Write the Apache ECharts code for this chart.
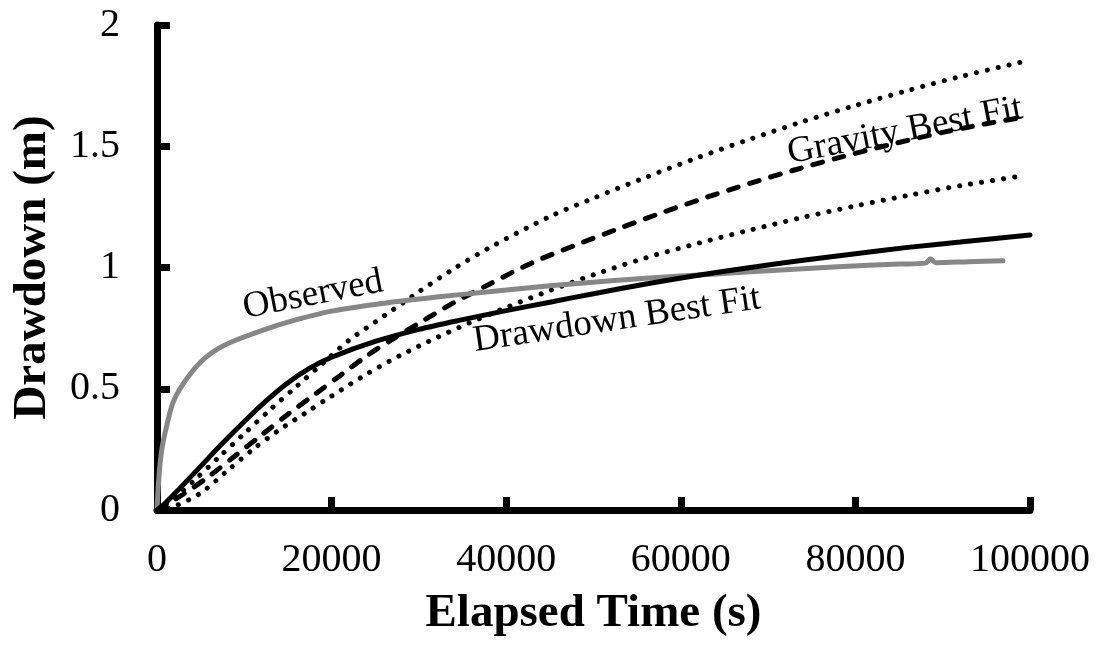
<!DOCTYPE html>
<html>
<head>
<meta charset="utf-8">
<script src="https://cdn.jsdelivr.net/npm/echarts@6/dist/echarts.min.js"></script>
<style>
  html, body { margin: 0; padding: 0; background: #fff; }
  #chart { width: 1104px; height: 653px; }
</style>
</head>
<body>
<div id="chart"></div>
<script>
// Observed drawdown record
const obsTime = [0, 100, 300, 600, 1000, 1800, 3000, 5000, 7000, 9000, 12000, 15000, 20000, 26000, 32000, 38000, 45000, 52000, 60000, 68000, 78000, 85000, 88000, 88600, 89200, 93000, 96900];
const obsDrawdown = [0, 0.07, 0.17, 0.26, 0.33, 0.44, 0.52, 0.61, 0.665, 0.70, 0.74, 0.775, 0.82, 0.853, 0.878, 0.90, 0.925, 0.945, 0.965, 0.982, 1.003, 1.014, 1.018, 1.036, 1.02, 1.024, 1.028];

// Model fitted to drawdown
const ddFitTime = [0, 1000, 2500, 5000, 7500, 10000, 12500, 15000, 17500, 20000, 25000, 30000, 35000, 40000, 45000, 50000, 56000, 62000, 68000, 74000, 80000, 86000, 92000, 100000];
const ddFit = [0, 0.03, 0.085, 0.18, 0.275, 0.365, 0.45, 0.525, 0.585, 0.63, 0.695, 0.745, 0.785, 0.822, 0.857, 0.892, 0.932, 0.968, 1.0, 1.03, 1.057, 1.083, 1.105, 1.134];

// Model fitted to gravity
const gravFitTime = [0, 3000, 6000, 9000, 12000, 15000, 18000, 21000, 24000, 27000, 30000, 34000, 38000, 43000, 48000, 53000, 58000, 63000, 68000, 73000, 78000, 84000, 90000, 95000, 99000];
const gravFit = [0, 0.065, 0.14, 0.225, 0.31, 0.395, 0.475, 0.555, 0.635, 0.705, 0.77, 0.855, 0.93, 1.02, 1.093, 1.162, 1.228, 1.29, 1.348, 1.402, 1.452, 1.507, 1.557, 1.593, 1.618];

// Upper and lower bounds around the gravity fit
const upperTime = [0, 2000, 4500, 7000, 10000, 13000, 16000, 19000, 22000, 26000, 30000, 34000, 38000, 45000, 50000, 56000, 62000, 68000, 74000, 80000, 86000, 92000, 99600];
const upperBound = [0, 0.05, 0.13, 0.215, 0.315, 0.415, 0.51, 0.605, 0.70, 0.80, 0.90, 0.995, 1.08, 1.21, 1.286, 1.372, 1.454, 1.530, 1.602, 1.668, 1.730, 1.787, 1.852];
const lowerTime = [0, 2000, 5000, 8000, 11000, 14000, 17000, 20000, 24000, 28000, 32000, 36000, 40000, 45000, 50000, 56000, 62000, 68000, 74000, 80000, 86000, 92000, 98800];
const lowerBound = [0, 0.015, 0.07, 0.16, 0.25, 0.33, 0.40, 0.47, 0.56, 0.64, 0.71, 0.775, 0.835, 0.905, 0.97, 1.04, 1.10, 1.155, 1.207, 1.254, 1.297, 1.337, 1.376];

// Axis ranges
const xMin = 0, xMax = 100000, xStep = 20000;
const yMin = 0, yMax = 2, yStep = 0.5;

// Curve captions: [text, time, drawdown, angle in degrees]
const captions = [
  ['Observed', 17870, 0.887, 11],
  ['Drawdown Best Fit', 52690, 0.784, 8.5],
  ['Gravity Best Fit', 85680, 1.563, 11]
];

const serif = '"Liberation Serif", "Times New Roman", Times, serif';
const zip = (xs, ys) => xs.map((x, i) => [x, ys[i]]);

const dotStyle = { color: '#000', width: 5, type: [0.1, 11], cap: 'round' };
const curve = { type: 'line', smooth: 0.3, symbol: 'none' };

const chart = echarts.init(document.getElementById('chart'), null, { renderer: 'canvas' });

const option = {
  backgroundColor: '#fff',
  animation: false,
  grid: { left: 157, right: 74, top: 25, bottom: 143, containLabel: false },
  xAxis: {
    type: 'value', min: xMin, max: xMax, interval: xStep,
    name: 'Elapsed Time (s)', nameLocation: 'middle', nameGap: 80,
    nameTextStyle: { fontFamily: serif, fontWeight: 'bold', fontSize: 47, color: '#000' },
    axisLine: { show: true, onZero: false, lineStyle: { color: '#000', width: 7 } },
    axisTick: { show: true, inside: true, length: 13, lineStyle: { color: '#000', width: 7 } },
    axisLabel: { fontFamily: serif, fontSize: 40, color: '#000', margin: 30, formatter: v => String(v) },
    splitLine: { show: false }
  },
  yAxis: {
    type: 'value', min: yMin, max: yMax, interval: yStep,
    name: 'Drawdown (m)', nameLocation: 'middle', nameGap: 101, nameRotate: 90,
    nameTextStyle: { fontFamily: serif, fontWeight: 'bold', fontSize: 47, color: '#000' },
    axisLine: { show: true, onZero: false, lineStyle: { color: '#000', width: 7 } },
    axisTick: { show: true, inside: true, length: 13, lineStyle: { color: '#000', width: 7 } },
    axisLabel: { fontFamily: serif, fontSize: 40, color: '#000', margin: 37, formatter: v => String(v) },
    splitLine: { show: false }
  },
  series: [
    Object.assign({ name: 'Upper bound', data: zip(upperTime, upperBound), lineStyle: dotStyle, z: 3 }, curve),
    Object.assign({ name: 'Lower bound', data: zip(lowerTime, lowerBound), lineStyle: dotStyle, z: 3 }, curve),
    Object.assign({ name: 'Gravity Best Fit', data: zip(gravFitTime, gravFit),
      lineStyle: { color: '#000', width: 5, type: [10, 12], cap: 'round' }, z: 4 }, curve),
    Object.assign({ name: 'Observed', data: zip(obsTime, obsDrawdown),
      lineStyle: { color: '#878787', width: 5, cap: 'round' }, z: 5 }, curve),
    Object.assign({ name: 'Drawdown Best Fit', data: zip(ddFitTime, ddFit),
      lineStyle: { color: '#000', width: 5, cap: 'round' }, z: 6 }, curve)
  ]
};
chart.setOption(option);

// Place the rotated captions next to their curves
chart.setOption({
  graphic: captions.map(([text, t, v, deg]) => {
    const [px, py] = chart.convertToPixel({ gridIndex: 0 }, [t, v]);
    return {
      type: 'text', x: px, y: py, rotation: deg * Math.PI / 180, z: 10,
      style: { text, font: '37px ' + serif, fill: '#000', align: 'center', verticalAlign: 'middle' }
    };
  })
});
</script>
</body>
</html>
